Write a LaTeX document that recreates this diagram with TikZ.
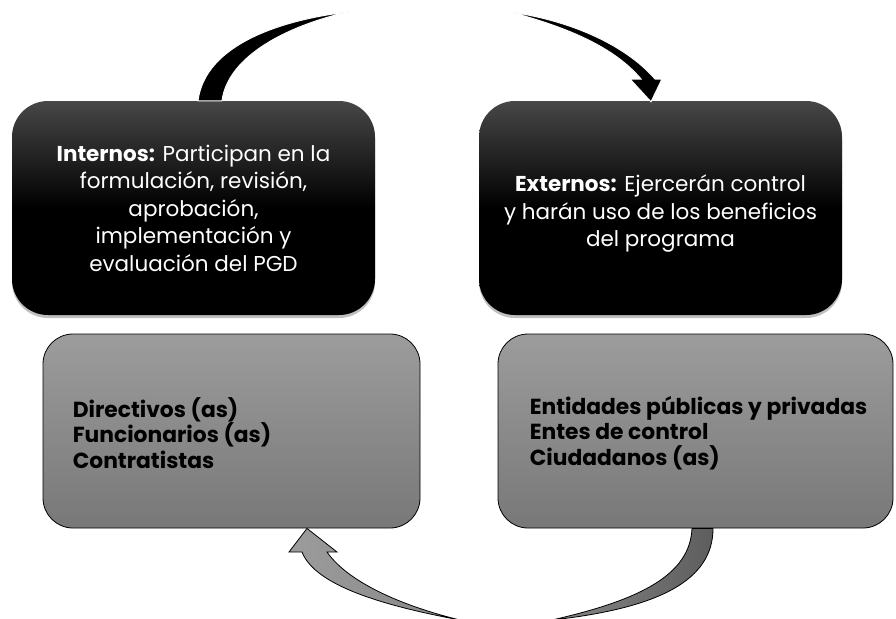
\documentclass[tikz,border=0pt]{standalone}
\usepackage{fontspec}
\setmainfont{Poppins}
\usetikzlibrary{shadows}
\definecolor{boxtop}{HTML}{474747}
\definecolor{graytop}{HTML}{9C9C9C}
\definecolor{graybot}{HTML}{787878}
\definecolor{arrowdark}{HTML}{5E5E5E}
\definecolor{arrowmid}{HTML}{868686}
\definecolor{arrowlight}{HTML}{9C9C9C}
\begin{document}
\begin{tikzpicture}
            [every node/.style={inner sep=0pt},
             darkbox/.style={rectangle, rounded corners=36pt, minimum width=363pt, minimum height=214pt, top color=boxtop, bottom color=black, middle color=black, drop shadow={opacity=0.5, shadow xshift=0pt, shadow yshift=-3pt}, text=white, align=center, font=\fontsize{21.5}{27.5}\selectfont},
             graybox/.style={rectangle, rounded corners=30pt, minimum height=194pt, top color=graytop, bottom color=graybot, draw=black, line width=0.8pt},
             listtext/.style={anchor=west, align=left, font=\bfseries\fontsize{21.8}{25.5}\selectfont}]
                \useasboundingbox (0pt, 0pt) rectangle (896pt, -618pt);
                \node (int) [darkbox] at (193.5pt, -208pt) {\textbf{Internos:} Participan en la\\formulación, revisión,\\aprobación,\\implementación y\\evaluación del PGD};
                \node (ext) [darkbox] at (660.5pt, -208pt) {\rule{0pt}{28pt}\textbf{Externos:} Ejercerán control\\y harán uso de los beneficios\\del programa};
                \node (lbox) [graybox, minimum width=377pt] at (231.5pt, -431pt) {};
                \node (rbox) [graybox, minimum width=395pt] at (695.5pt, -431pt) {};
                \node (dirs) [listtext] at ([xshift=30pt, yshift=-2pt]lbox.west) {Directivos (as)\\Funcionarios (as)\\Contratistas};
                \node (ents) [listtext] at ([xshift=32pt, yshift=-2pt]rbox.west) {Entidades públicas y privadas\\Entes de control\\Ciudadanos (as)};
                \fill [black, draw=white, line width=1pt] ([xshift=4.5pt]int.north) .. controls (205pt, -45pt) and (280pt, -20pt) .. (348pt, -12pt) .. controls (290pt, -25pt) and (228pt, -55pt) .. ([xshift=28.5pt]int.north) -- cycle;
                \fill [black, draw=white, line width=1pt] (510pt, -12pt) .. controls (580pt, -22pt) and (630pt, -50pt) .. (655pt, -79pt) -- (662pt, -79pt) -- ([xshift=-9.5pt, yshift=-1pt]ext.north) -- (630pt, -79pt) -- (641pt, -79pt) .. controls (615pt, -48pt) and (570pt, -28pt) .. (510pt, -12pt) -- cycle;
                \draw [left color=arrowmid, right color=arrowdark, draw=black, line width=0.8pt] ([xshift=17.5pt]rbox.south) .. controls (713pt, -580pt) and (660pt, -608pt) .. (552pt, -620pt) .. controls (640pt, -600pt) and (690pt, -575pt) .. ([xshift=-3.5pt]rbox.south) -- cycle;
                \draw [left color=arrowlight, right color=arrowmid, draw=black, line width=0.8pt] (460pt, -620pt) .. controls (380pt, -605pt) and (315pt, -585pt) .. (302pt, -552pt) -- (289pt, -552pt) -- ([xshift=75.5pt]lbox.south) -- (337pt, -552pt) -- (327pt, -552pt) .. controls (350pt, -585pt) and (410pt, -608pt) .. (460pt, -620pt) -- cycle;
            \end{tikzpicture}
\end{document}
